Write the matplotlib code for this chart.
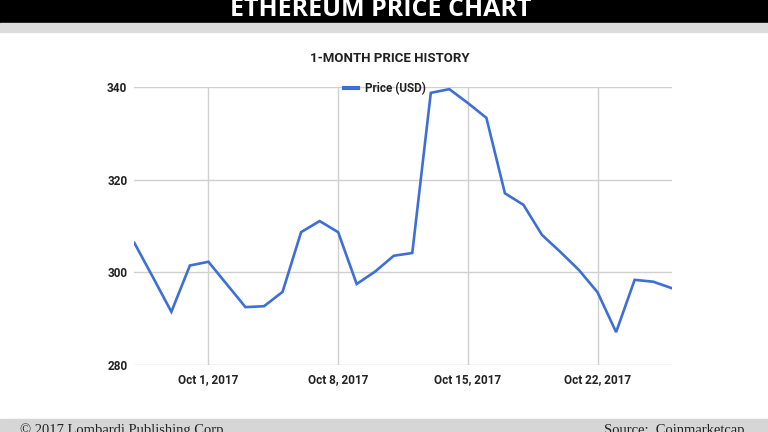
import matplotlib
matplotlib.use("Agg")
import matplotlib.pyplot as plt
import matplotlib.dates as mdates
import numpy as np
import datetime as dt

# daily ETH price, Sep 27 - Oct 26 2017
start = dt.date(2017, 9, 27)
prices = [306.4, 299.0, 291.5, 301.5, 302.3, 297.4, 292.5, 292.7, 295.8, 308.7,
          311.1, 308.7, 297.5, 300.2, 303.6, 304.2, 338.8, 339.6, 336.6, 333.4,
          317.1, 314.6, 308.1, 304.4, 300.5, 295.7, 287.1, 298.4, 298.0, 296.6]
dates = [start + dt.timedelta(days=i) for i in range(len(prices))]
tick_dates = [dt.date(2017, 10, 1), dt.date(2017, 10, 8), dt.date(2017, 10, 15), dt.date(2017, 10, 22)]
y_ticks = [280, 300, 320, 340]

plt.rcParams['font.family'] = ['Roboto', 'DejaVu Sans']

fig = plt.figure(figsize=(7.68, 4.32), dpi=100)
fig.patch.set_facecolor('white')

# header band
fig.patches.append(plt.Rectangle((0, 1 - 23/432), 1, 23/432, transform=fig.transFigure,
                                 color='black', zorder=0))
fig.patches.append(plt.Rectangle((0, 1 - 32/432), 1, 9/432, transform=fig.transFigure,
                                 color='#dcdcdc', zorder=0))
fig.text(381/768, 1 - 16/432, "ETHEREUM PRICE CHART", color='white', fontsize=18,
         fontweight='bold', ha='center', va='baseline', family=['Open Sans', 'DejaVu Sans'])

# footer band
fig.patches.append(plt.Rectangle((0, 0), 1, 13/432, transform=fig.transFigure,
                                 color='#d6d6d6', zorder=0))
fig.text(20/768, 1 - 434/432, "© 2017 Lombardi Publishing Corp.", color='#222222',
         fontsize=10.5, ha='left', va='baseline', family=['Liberation Serif', 'DejaVu Serif'])
fig.text(744/768, 1 - 434/432, "Source:  Coinmarketcap", color='#222222',
         fontsize=10.5, ha='right', va='baseline', family=['Liberation Serif', 'DejaVu Serif'])

fig.text(390/768, 1 - 59/432, "1-MONTH PRICE HISTORY", color='#222222', fontsize=9.5,
         fontweight='bold', ha='center', va='center')

ax = fig.add_axes([134.3/768, 1 - 365/432, (671.7 - 134.3)/768, (365 - 87.3)/432])
ax.plot(dates, prices, color='#3d6fd6', lw=1.9, label='Price (USD)', solid_joinstyle='miter')
ax.set_ylim(280, 340)
ax.set_xlim(dates[0], dates[-1])
ax.set_yticks(y_ticks)
ax.set_xticks(tick_dates)
ax.xaxis.set_major_formatter(mdates.DateFormatter('%b %-d, %Y'))
ax.grid(True, color='#d0d0d0', lw=1)
ax.set_axisbelow(True)
for s in ax.spines.values():
    s.set_visible(False)
ax.tick_params(length=0, labelsize=8.5, labelcolor='#222222', pad=5)
ax.tick_params(axis='x', pad=6)
for lab in ax.get_xticklabels() + ax.get_yticklabels():
    lab.set_fontweight('bold')

leg = ax.legend(loc='lower left', bbox_to_anchor=(344/768, 1 - 95/432), bbox_transform=fig.transFigure,
                frameon=False, fontsize=8.5, handlelength=1.2, handletextpad=0.6,
                borderpad=0, borderaxespad=0)
for t in leg.get_texts():
    t.set_color('#222222')
    t.set_fontweight('bold')
for h in leg.get_lines():
    h.set_linewidth(3)

fig.savefig('out.png', dpi=100)
